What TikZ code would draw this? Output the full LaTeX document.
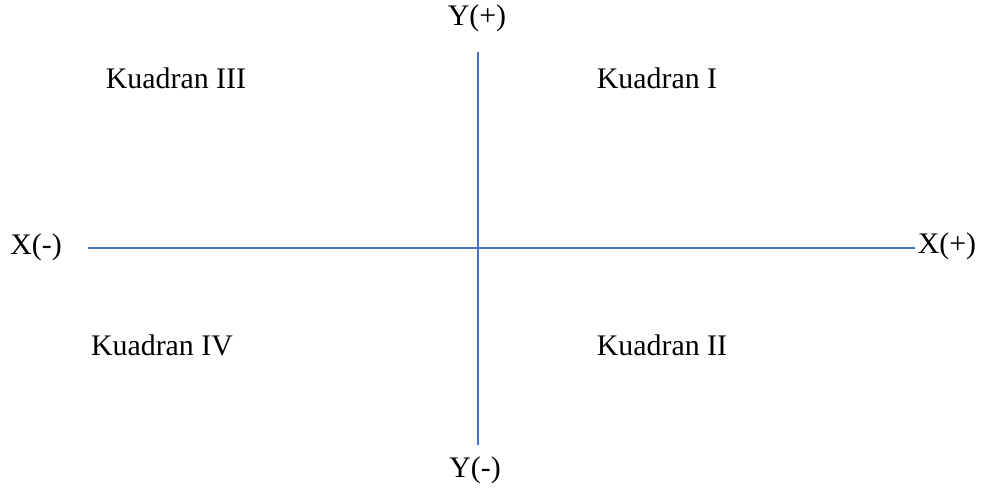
\documentclass[tikz,border=0pt]{standalone}
\usepackage{fontspec}
\setmainfont{Liberation Serif}
\usepackage{xcolor}
\usetikzlibrary{positioning}
\definecolor{axisblue}{RGB}{68,114,196}

\begin{document}
\begin{tikzpicture}[x=0.02cm,y=-0.02cm,
    axis/.style={draw=axisblue,line width=0.6pt},
    lbl/.style={inner sep=0pt,font=\fontsize{17}{20}\selectfont}]
        \useasboundingbox (0,0) rectangle (982,488);
        %Axis ends
        \coordinate (xl) at (88,248);
        \coordinate (xr) at (915,248);
        \coordinate (yt) at (478,52);
        \coordinate (yb) at (478,445);
        %Axis
        \draw[axis] (xl) -- (xr);
        \draw[axis] (yt) -- (yb);
        %Axis labels
        \node[lbl] (xneg) at (36,247) {X(-)};
        \node[lbl] (xpos) at (947,246) {X(+)};
        \node[lbl] (ypos) at (477,18) {Y(+)};
        \node[lbl] (yneg) at (475,470) {Y(-)};
        %Quadrants
        \node[lbl] (q1) at (657,78) {Kuadran I};
        \node[lbl] (q2) at (662,345) {Kuadran II};
        \node[lbl] (q3) at (176,78) {Kuadran III};
        \node[lbl] (q4) at (162,345) {Kuadran IV};
\end{tikzpicture}
\end{document}
